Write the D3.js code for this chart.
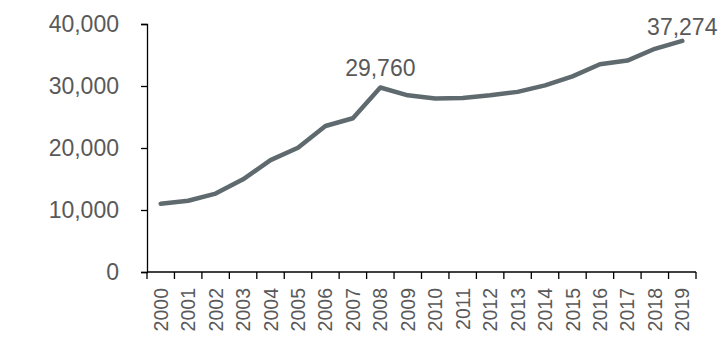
<!DOCTYPE html>
<html><head><meta charset="utf-8">
<script src="https://cdn.jsdelivr.net/npm/d3@7"></script>
<style>body{margin:0;background:#fff}svg{display:block}</style>
</head><body>
<svg id="c" width="720" height="339"></svg>
<script>
const years = ["2000","2001","2002","2003","2004","2005","2006","2007","2008","2009","2010","2011","2012","2013","2014","2015","2016","2017","2018","2019"];
const values = [11000,11500,12650,14950,18050,20050,23550,24800,29760,28500,28000,28060,28500,29050,30100,31550,33500,34100,36000,37274];
const yTicks = [0,10000,20000,30000,40000];
const labelled = ["2008","2019"];

const svg = d3.select("#c");
const m = {l:147, r:696, t:24, b:272};
const x = d3.scaleBand().domain(years).range([m.l, m.r]);
const y = d3.scaleLinear().domain([0,40000]).range([m.b, m.t]);
const fmt = d3.format(",");
const font = "'Liberation Sans', Arial, sans-serif";

// Y axis
const ya = svg.append("g").attr("transform",`translate(${m.l},0)`)
  .call(d3.axisLeft(y).tickValues(yTicks).tickFormat(fmt).tickSize(6).tickPadding(22));
ya.select(".domain").attr("stroke","#000").attr("stroke-width",1.3);
ya.selectAll(".tick line").attr("stroke","#000").attr("stroke-width",1.3);
ya.selectAll(".tick text").attr("fill","#595959").style("font-family",font).style("font-size","23px");

// X axis with ticks at band boundaries
const xa = svg.append("g").attr("transform",`translate(0,${m.b})`);
xa.append("line").attr("x1",m.l).attr("x2",m.r).attr("stroke","#000").attr("stroke-width",1.3);
const bounds = years.map(d=>x(d)).concat([x(years[years.length-1])+x.bandwidth()]);
xa.selectAll("line.tk").data(bounds).join("line").attr("class","tk")
  .attr("x1",d=>d).attr("x2",d=>d).attr("y1",0).attr("y2",7)
  .attr("stroke","#000").attr("stroke-width",1.3);
xa.selectAll("text").data(years).join("text")
  .attr("transform",d=>`translate(${x(d)+x.bandwidth()/2},16) rotate(-90)`)
  .attr("text-anchor","end").attr("dy","0.36em")
  .attr("fill","#595959").style("font-family",font).style("font-size","19.5px")
  .text(d=>d);

// Line
const cx = d=>x(d)+x.bandwidth()/2;
const line = d3.line().x((d,i)=>cx(years[i])).y(d=>y(d));
svg.append("path").datum(values).attr("d",line)
  .attr("fill","none").attr("stroke","#5f6a6f").attr("stroke-width",4.5)
  .attr("stroke-linejoin","round").attr("stroke-linecap","round");

// Data labels
const offs = {"2008":-11,"2019":-6};
svg.selectAll("text.lbl").data(labelled).join("text").attr("class","lbl")
  .attr("x",d=>cx(d)).attr("y",d=>y(values[years.indexOf(d)])+offs[d])
  .attr("text-anchor","middle").attr("fill","#595959")
  .style("font-family",font).style("font-size","23px")
  .text(d=>fmt(values[years.indexOf(d)]));
</script>
</body></html>
